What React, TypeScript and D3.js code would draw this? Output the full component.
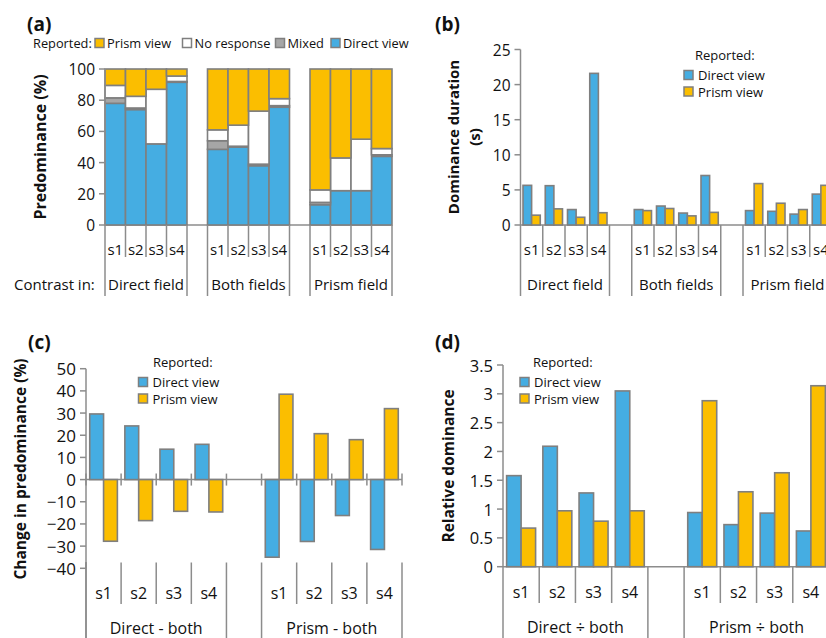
import React from 'react';
import * as d3 from 'd3';

// ---- shared categories ----
const subjects = ['s1', 's2', 's3', 's4'];
const fieldGroups = ['Direct field', 'Both fields', 'Prism field'];
const changeGroups = ['Direct - both', 'Prism - both'];
const ratioGroups = ['Direct \u00f7 both', 'Prism \u00f7 both'];

// ---- (a) predominance, stacked per subject (%), order: direct field s1-s4, both fields s1-s4, prism field s1-s4
const stackKeys = ['Direct view', 'Mixed', 'No response', 'Prism view'];
const predDirect = [78, 74, 52, 91.5, 48.5, 50, 38, 75.5, 13, 22, 22, 44];
const predMixed = [3.5, 1, 0, 0.5, 5.5, 0.5, 1, 1, 1.5, 0, 0, 1];
const predNoResponse = [8, 7.5, 35, 3.5, 7, 13.5, 34, 4.5, 8, 21, 33, 4];
const predPrism = [10.5, 17.5, 13, 4.5, 39, 36, 27, 19, 77.5, 57, 45, 51];
const legendOrderA = ['Prism view', 'No response', 'Mixed', 'Direct view'];
const ticksA = [0, 20, 40, 60, 80, 100];

// ---- (b) dominance duration (s)
const durDirect = [5.65, 5.6, 2.2, 21.6, 2.2, 2.7, 1.7, 7.05, 2.05, 1.95, 1.55, 4.4];
const durPrism = [1.4, 2.3, 1.1, 1.75, 2.05, 2.35, 1.3, 1.8, 5.9, 3.1, 2.2, 5.65];
const ticksB = [0, 5, 10, 15, 20, 25];

// ---- (c) change in predominance (%)
const changeDirect = [29.6, 24.2, 13.7, 15.9, -35, -27.9, -16.2, -31.5];
const changePrism = [-27.8, -18.5, -14.3, -14.6, 38.5, 20.7, 18, 32];
const ticksC = [-40, -30, -20, -10, 0, 10, 20, 30, 40, 50];

// ---- (d) relative dominance
const ratioDirect = [1.58, 2.09, 1.28, 3.05, 0.94, 0.73, 0.93, 0.62];
const ratioPrism = [0.67, 0.97, 0.79, 0.97, 2.88, 1.3, 1.63, 3.14];
const ticksD = [0, 0.5, 1, 1.5, 2, 2.5, 3, 3.5];

const seriesNames = ['Direct view', 'Prism view'];

const BLUE = '#45ade2';
const YELLOW = '#fbbe00';
const MIXED = '#a6a6a6';
const EDGE = '#7f7f7f';
const AXIS = '#8c8c8c';
const FONT = "'Open Sans', sans-serif";
const colorOf: Record<string, string> = {
  'Direct view': BLUE,
  'Prism view': YELLOW,
  'Mixed': MIXED,
  'No response': '#ffffff',
};

const minus = (v: number) => (v < 0 ? '\u2212' + Math.abs(v) : String(v));

// slot index of subject s inside group g (one empty slot between groups)
const slotOf = (g: number, s: number) => g * 5 + s;

function CategoryAxis({ x, groups, y0, shortEnd, longEnd, sY, gY, fs }: any) {
  const bw = x.bandwidth();
  const out: any[] = [];
  groups.forEach((gName: string, g: number) => {
    const start = x(slotOf(g, 0));
    for (let i = 0; i <= 4; i++) {
      const bx = start + i * bw;
      const long = i === 0 || i === 4;
      out.push(
        <line key={`sep${g}-${i}`} x1={bx} x2={bx} y1={y0} y2={long ? longEnd : shortEnd}
          stroke={AXIS} strokeWidth={1.5} />
      );
    }
    subjects.forEach((s, i) => {
      out.push(
        <text key={`s${g}-${i}`} x={x(slotOf(g, i)) + bw / 2} y={sY} textAnchor="middle"
          dominantBaseline="central" fontSize={fs}>{s}</text>
      );
    });
    out.push(
      <text key={`g${g}`} x={start + 2 * bw} y={gY} textAnchor="middle" dominantBaseline="central"
        fontSize={fs}>{gName}</text>
    );
  });
  return <g>{out}</g>;
}

function YAxis({ y, ticks, x0, top, fs, fmt }: any) {
  return (
    <g>
      <line x1={x0} x2={x0} y1={top} y2={y(ticks[0])} stroke={AXIS} strokeWidth={1.5} />
      {ticks.map((t: number) => (
        <g key={t}>
          <line x1={x0 - 6} x2={x0} y1={y(t)} y2={y(t)} stroke={AXIS} strokeWidth={1.5} />
          <text x={x0 - 10} y={y(t)} textAnchor="end" dominantBaseline="central" fontSize={fs}>
            {fmt ? fmt(t) : t}
          </text>
        </g>
      ))}
    </g>
  );
}

function Swatch({ x, y, color }: any) {
  return <rect x={x} y={y - 4.5} width={9} height={9} fill={color} stroke={EDGE} strokeWidth={1.5} />;
}

function PanelA() {
  const x = d3.scaleBand<number>().domain(d3.range(14)).range([105, 392]).padding(0);
  const y = d3.scaleLinear().domain([0, 100]).range([225, 69]);
  const rows = predDirect.map((_, i) => ({
    'Direct view': predDirect[i],
    'Mixed': predMixed[i],
    'No response': predNoResponse[i],
    'Prism view': predPrism[i],
  }));
  const stacked = d3.stack<any>().keys(stackKeys)(rows);
  const bw = x.bandwidth();
  const legendX = [95, 182.5, 275.5, 331];
  return (
    <g>
      <text x={27} y={24} fontSize={19} fontWeight="bold" dominantBaseline="central">(a)</text>
      <text x={33} y={43} fontSize={12.8} dominantBaseline="central">Reported:</text>
      {legendOrderA.map((k, i) => (
        <g key={k}>
          <Swatch x={legendX[i]} y={43} color={colorOf[k]} />
          <text x={legendX[i] + 12} y={43} fontSize={12.8} dominantBaseline="central">{k}</text>
        </g>
      ))}
      <line x1={105} x2={392} y1={y(0)} y2={y(0)} stroke={AXIS} strokeWidth={1.5} />
      {stacked.map((layer) => (
        <g key={layer.key}>
          {layer.map((d, i) => {
            const g = Math.floor(i / 4);
            const s = i % 4;
            const h = y(d[0]) - y(d[1]);
            if (h <= 0) return null;
            return (
              <rect key={i} x={x(slotOf(g, s))!} y={y(d[1])} width={bw} height={h}
                fill={colorOf[layer.key]} stroke={EDGE} strokeWidth={1.6} />
            );
          })}
        </g>
      ))}
      <YAxis y={y} ticks={ticksA} x0={105} top={69} fs={15.5} />
      <CategoryAxis x={x} groups={fieldGroups} y0={225} shortEnd={257} longEnd={296} sY={249} gY={284} fs={15} />
      <text x={14} y={284} fontSize={15} dominantBaseline="central">Contrast in:</text>
      <text transform="translate(40,147) rotate(-90)" textAnchor="middle" dominantBaseline="central"
        fontSize={16} fontWeight="bold">Predominance (%)</text>
    </g>
  );
}

function PairedBars({ x, y, direct, prism, pad }: any) {
  const inner = d3.scaleBand<string>().domain(seriesNames).range([0, x.bandwidth()])
    .paddingInner(0).paddingOuter(pad);
  return (
    <g>
      {direct.map((v: number, i: number) => {
        const g = Math.floor(i / 4);
        const s = i % 4;
        const bx = x(slotOf(g, s));
        return seriesNames.map((name) => {
          const val = name === 'Direct view' ? v : prism[i];
          const y1 = y(Math.max(0, val));
          const y2 = y(Math.min(0, val));
          return (
            <rect key={`${i}-${name}`} x={bx + inner(name)} y={y1} width={inner.bandwidth()}
              height={y2 - y1} fill={colorOf[name]} stroke={EDGE} strokeWidth={1.6} />
          );
        });
      })}
    </g>
  );
}

function Legend2({ x, y, sx, fs }: any) {
  return (
    <g>
      <text x={x} y={y} fontSize={fs} dominantBaseline="central">Reported:</text>
      {seriesNames.map((n, i) => (
        <g key={n}>
          <Swatch x={sx} y={y + 20 + i * 16.5} color={colorOf[n]} />
          <text x={sx + 14} y={y + 20 + i * 16.5} fontSize={fs} dominantBaseline="central">{n}</text>
        </g>
      ))}
    </g>
  );
}

function PanelB() {
  const x = d3.scaleBand<number>().domain(d3.range(14)).range([520.5, 832]).padding(0);
  const y = d3.scaleLinear().domain([0, 25]).range([225, 49.5]);
  return (
    <g>
      <text x={435} y={24} fontSize={19} fontWeight="bold" dominantBaseline="central">(b)</text>
      <line x1={520.5} x2={832} y1={y(0)} y2={y(0)} stroke={AXIS} strokeWidth={1.5} />
      <PairedBars x={x} y={y} direct={durDirect} prism={durPrism} pad={0.29} />
      <YAxis y={y} ticks={ticksB} x0={520.5} top={49.5} fs={15.5} />
      <CategoryAxis x={x} groups={fieldGroups} y0={225} shortEnd={257} longEnd={296} sY={249} gY={284} fs={15} />
      <Legend2 x={695} y={55} sx={684} fs={13} />
      <text transform="translate(453,137) rotate(-90)" textAnchor="middle" dominantBaseline="central"
        fontSize={15} fontWeight="bold">Dominance duration</text>
      <text transform="translate(474,137) rotate(-90)" textAnchor="middle" dominantBaseline="central"
        fontSize={15} fontWeight="bold">(s)</text>
    </g>
  );
}

function PanelC() {
  const x = d3.scaleBand<number>().domain(d3.range(9)).range([86, 402]).padding(0);
  const y = d3.scaleLinear().domain([-40, 50]).range([568.3, 368.7]);
  const bw = x.bandwidth();
  const y0 = y(0);
  const zeroTicks: number[] = [];
  changeGroups.forEach((_, g) => {
    for (let i = 0; i <= 4; i++) zeroTicks.push(x(slotOf(g, 0))! + i * bw);
  });
  return (
    <g>
      <text x={28} y={342} fontSize={19} fontWeight="bold" dominantBaseline="central">(c)</text>
      <line x1={86} x2={402} y1={y0} y2={y0} stroke={AXIS} strokeWidth={1.5} />
      {zeroTicks.map((tx, i) => (
        <line key={i} x1={tx} x2={tx} y1={y0 - 6} y2={y0 + 6} stroke={AXIS} strokeWidth={1.5} />
      ))}
      <PairedBars x={x} y={y} direct={changeDirect} prism={changePrism} pad={0.27} />
      <YAxis y={y} ticks={ticksC} x0={86} top={368.7} fs={17} fmt={minus} />
      <line x1={86} x2={86} y1={562} y2={638} stroke={AXIS} strokeWidth={1.5} />
      <CategoryAxis x={x} groups={changeGroups} y0={562.5} shortEnd={604} longEnd={640} sY={593} gY={628} fs={16} />
      <Legend2 x={153} y={362} sx={138.5} fs={13} />
      <text transform="translate(20,469) rotate(-90)" textAnchor="middle" dominantBaseline="central"
        fontSize={15.5} fontWeight="bold">Change in predominance (%)</text>
    </g>
  );
}

function PanelD() {
  const x = d3.scaleBand<number>().domain(d3.range(9)).range([503, 829]).padding(0);
  const y = d3.scaleLinear().domain([0, 3.5]).range([566.7, 365]);
  return (
    <g>
      <text x={435} y={342} fontSize={19} fontWeight="bold" dominantBaseline="central">(d)</text>
      <line x1={503} x2={830} y1={y(0)} y2={y(0)} stroke={AXIS} strokeWidth={1.5} />
      <PairedBars x={x} y={y} direct={ratioDirect} prism={ratioPrism} pad={0.25} />
      <YAxis y={y} ticks={ticksD} x0={503} top={365} fs={16.5} />
      <CategoryAxis x={x} groups={ratioGroups} y0={566.7} shortEnd={603} longEnd={640} sY={591.5} gY={627} fs={16} />
      <Legend2 x={533} y={362} sx={520} fs={13} />
      <text transform="translate(448,466) rotate(-90)" textAnchor="middle" dominantBaseline="central"
        fontSize={15.5} fontWeight="bold">Relative dominance</text>
    </g>
  );
}

export default function App() {
  return (
    <svg width={826} height={638} viewBox="0 0 826 638"
      style={{ position: 'absolute', left: 0, top: 0, background: '#fff' }}
      fontFamily={FONT} fill="#111">
      <rect x={0} y={0} width={826} height={638} fill="#fff" />
      <PanelA />
      <PanelB />
      <PanelC />
      <PanelD />
    </svg>
  );
}
